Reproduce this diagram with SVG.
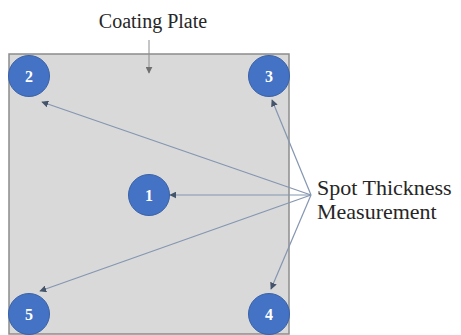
<svg xmlns="http://www.w3.org/2000/svg" width="461" height="335" viewBox="0 0 461 335">
<defs>
<style>
.lbl{font-family:"Liberation Serif","Times New Roman",serif;fill:#262626}
.num{font-family:"Liberation Serif","Times New Roman",serif;fill:#ffffff;font-size:16px;font-weight:bold;text-anchor:middle}
.spot{fill:#4472c4;stroke:#3a62a8;stroke-width:1}
.conn{stroke:#8496b0;stroke-width:1.2;fill:none;marker-end:url(#ah)}
</style>
<marker id="ah" viewBox="0 0 10 10" refX="9" refY="5" markerWidth="7" markerHeight="7" orient="auto" markerUnits="userSpaceOnUse">
<path d="M0,0 L10,5 L0,10 z" fill="#44546a"/>
</marker>
<marker id="ah2" viewBox="0 0 10 10" refX="9" refY="5" markerWidth="7" markerHeight="7" orient="auto" markerUnits="userSpaceOnUse">
<path d="M0,0 L10,5 L0,10 z" fill="#707070"/>
</marker>
</defs>
<rect width="461" height="335" fill="#ffffff"/>
<g id="plate">
<rect x="9" y="54" width="280" height="280" fill="#d9d9d9" stroke="#8c8c8c" stroke-width="1.5"/>
</g>
<g id="title">
<text class="lbl" x="153" y="28" font-size="20" text-anchor="middle">Coating Plate</text>
</g>
<g id="spot-label">
<text class="lbl" x="317" y="195" font-size="22">Spot Thickness</text>
<text class="lbl" x="317" y="219" font-size="22">Measurement</text>
</g>
<g id="n1"><circle class="spot" cx="149" cy="195" r="20.5"/><text class="num" x="149" y="201">1</text></g>
<g id="n2"><circle class="spot" cx="29" cy="76" r="20.5"/><text class="num" x="29" y="82">2</text></g>
<g id="n3"><circle class="spot" cx="269" cy="76" r="20.5"/><text class="num" x="269" y="82">3</text></g>
<g id="n4"><circle class="spot" cx="269" cy="314" r="20.5"/><text class="num" x="269" y="320">4</text></g>
<g id="n5"><circle class="spot" cx="29" cy="314" r="20.5"/><text class="num" x="29" y="320">5</text></g>
<g id="connectors">
<line x1="149" y1="40" x2="149" y2="73" stroke="#8c8c8c" stroke-width="1" marker-end="url(#ah2)"/>
<line class="conn" x1="311" y1="195" x2="42" y2="102"/>
<line class="conn" x1="311" y1="195" x2="272" y2="100"/>
<line class="conn" x1="311" y1="195" x2="170" y2="195"/>
<line class="conn" x1="311" y1="195" x2="40" y2="291"/>
<line class="conn" x1="311" y1="195" x2="271" y2="289"/>
</g>
</svg>
